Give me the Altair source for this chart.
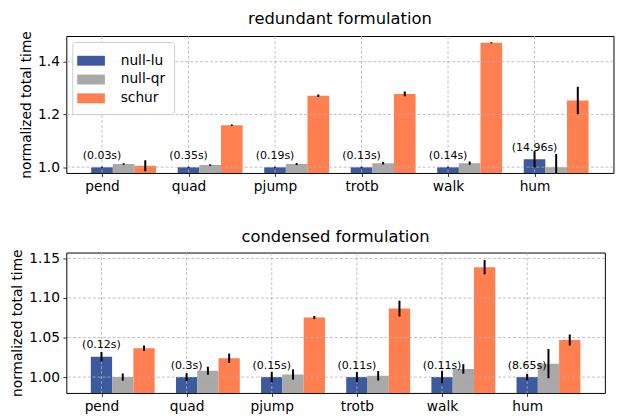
import altair as alt
import pandas as pd

categories = ["pend", "quad", "pjump", "trotb", "walk", "hum"]
methods = ["null-lu", "null-qr", "schur"]
colors = ["#3D5A9E", "#A9A9A9", "#FF7F50"]

# redundant formulation
red_lu = [1.000, 1.000, 1.000, 1.000, 1.000, 1.030]
red_lu_err = [0.002, 0.002, 0.002, 0.002, 0.002, 0.031]
red_qr = [1.012, 1.008, 1.012, 1.015, 1.015, 1.000]
red_qr_err = [0.003, 0.003, 0.004, 0.005, 0.006, 0.050]
red_schur = [1.005, 1.159, 1.271, 1.278, 1.472, 1.253]
red_schur_err = [0.021, 0.003, 0.005, 0.009, 0.002, 0.052]
red_times = ["(0.03s)", "(0.35s)", "(0.19s)", "(0.13s)", "(0.14s)", "(14.96s)"]
red_ticks = [1.0, 1.2, 1.4]

# condensed formulation
con_lu = [1.0258, 1.000, 1.000, 1.000, 1.000, 1.000]
con_lu_err = [0.006, 0.005, 0.0067, 0.0065, 0.008, 0.004]
con_qr = [1.000, 1.008, 1.0033, 1.0017, 1.0104, 1.017]
con_qr_err = [0.0045, 0.005, 0.0065, 0.006, 0.006, 0.0185]
con_schur = [1.0366, 1.024, 1.0754, 1.0867, 1.139, 1.047]
con_schur_err = [0.0035, 0.006, 0.002, 0.010, 0.009, 0.007]
con_times = ["(0.12s)", "(0.3s)", "(0.15s)", "(0.11s)", "(0.11s)", "(8.65s)"]
con_ticks = [1.00, 1.05, 1.10, 1.15]

BAR_W = 0.25
X_DOMAIN = [-0.4125, 5.9125]
FONT = "DejaVu Sans"


def build_frames(series, errs, times):
    rows = []
    for j, (vals, es) in enumerate(zip(series, errs)):
        for i, (v, e) in enumerate(zip(vals, es)):
            pos = i + BAR_W * j
            rows.append(dict(cat=categories[i], method=methods[j], pos=pos,
                             x0=pos - BAR_W / 2, x1=pos + BAR_W / 2,
                             value=v, base=0.0, lo=v - e, hi=v + e))
    bars = pd.DataFrame(rows)
    labels = pd.DataFrame(dict(i=list(range(len(categories))),
                               v=series[0], label=times))
    return bars, labels


label_expr = "[" + ",".join("'%s'" % c for c in categories) + "][datum.value]"


def panel(series, errs, times, title, ydomain, yticks, fmt, width, height):
    bars, labels = build_frames(series, errs, times)
    xscale = alt.Scale(domain=X_DOMAIN, nice=False, zero=False)
    yscale = alt.Scale(domain=ydomain, nice=False, zero=False)
    xaxis = alt.Axis(values=list(range(len(categories))), labelExpr=label_expr,
                     title=None, grid=False, domain=False, labelAngle=0)
    yaxis = alt.Axis(values=yticks, format=fmt, title="normalized total time",
                     grid=False, domain=False)

    bar_layer = alt.Chart(bars).mark_rect(clip=True).encode(
        x=alt.X("x0:Q", scale=xscale, axis=xaxis),
        x2="x1:Q",
        y=alt.Y("value:Q", scale=yscale, axis=yaxis),
        y2="base:Q",
        color=alt.Color("method:N",
                        scale=alt.Scale(domain=methods, range=colors),
                        legend=alt.Legend(title=None, orient="top-left")),
    )
    xgrid = alt.Chart(pd.DataFrame(dict(t=list(range(len(categories)))))).mark_rule(
        color="#b0b0b0", strokeDash=[3, 2], strokeWidth=0.8
    ).encode(x=alt.X("t:Q", scale=xscale, axis=xaxis))
    ygrid = alt.Chart(pd.DataFrame(dict(t=yticks))).mark_rule(
        color="#b0b0b0", strokeDash=[3, 2], strokeWidth=0.8
    ).encode(y=alt.Y("t:Q", scale=yscale, axis=yaxis))
    err_layer = alt.Chart(bars).mark_rule(color="black", strokeWidth=2, clip=True).encode(
        x=alt.X("pos:Q", scale=xscale, axis=xaxis),
        y=alt.Y("lo:Q", scale=yscale, axis=yaxis),
        y2="hi:Q",
    )
    text_layer = alt.Chart(labels).mark_text(
        font=FONT, fontSize=11.1, baseline="alphabetic", dy=-8.5, color="black"
    ).encode(
        x=alt.X("i:Q", scale=xscale, axis=xaxis),
        y=alt.Y("v:Q", scale=yscale, axis=yaxis),
        text="label:N",
    )
    return alt.layer(bar_layer, xgrid, ygrid, err_layer, text_layer).properties(
        width=width, height=height,
        title=alt.TitleParams(title, font=FONT, fontSize=16.5, fontWeight="normal",
                              anchor="middle", offset=3.2, color="black"),
    )


top = panel([red_lu, red_qr, red_schur], [red_lu_err, red_qr_err, red_schur_err],
            red_times, "redundant formulation", [0.978, 1.4975], red_ticks, ".1f",
            553.4, 138.5)
bottom = panel([con_lu, con_qr, con_schur], [con_lu_err, con_qr_err, con_schur_err],
               con_times, "condensed formulation", [0.98, 1.1575], con_ticks, ".2f",
               544.7, 142)

chart = alt.ConcatChart(
    concat=[top, bottom], columns=1, align="none", center=True, spacing=35
).properties(
    padding={"left": 2, "top": 0, "right": 5, "bottom": 0}
).configure_view(
    stroke="black", strokeWidth=1
).configure_axis(
    labelFont=FONT, labelFontSize=13.9, labelColor="black",
    tickColor="black", tickSize=3.5, tickWidth=0.8, labelPadding=3.5,
    titleFont=FONT, titleFontSize=13.9, titleFontWeight="normal",
    titleColor="black", titlePadding=4.5,
).configure_legend(
    offset=6, fillColor="rgba(255,255,255,0.8)", strokeColor="#cccccc",
    cornerRadius=3, padding=9, labelFont=FONT, labelFontSize=13.9,
    labelColor="black", symbolType="M-1.4,-0.5H1.4V0.5H-1.4Z", symbolSize=400,
    symbolStrokeWidth=0, symbolOpacity=1, labelOffset=20, rowPadding=2,
)

chart.save("out.html", embed_options={"renderer": "svg", "actions": False})
